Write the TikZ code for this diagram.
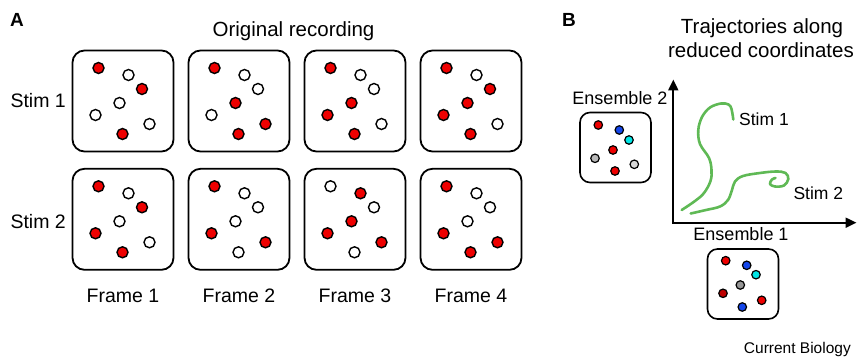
\documentclass[tikz,border=0pt]{standalone}
\usepackage{fontspec}
\setmainfont{Liberation Sans}
\usetikzlibrary{arrows.meta}

\definecolor{dotr}{RGB}{238,0,0}
\definecolor{dotw}{RGB}{255,255,255}
\definecolor{ensblue}{RGB}{20,70,235}
\definecolor{enscyan}{RGB}{0,230,230}
\definecolor{ensgray}{RGB}{185,185,185}
\definecolor{enslight}{RGB}{215,215,215}
\definecolor{ensmid}{RGB}{150,150,150}
\definecolor{ensdark}{RGB}{190,0,0}
\definecolor{trajgreen}{RGB}{95,185,85}

\tikzset{
  framebox/.style={draw, line width=1.8pt, rounded corners=12pt,
    minimum width=101pt, minimum height=101pt, inner sep=0pt, outer sep=0pt},
  dot/.style={circle, draw, line width=1.4pt, minimum size=11pt, inner sep=0pt},
  ensbox/.style={draw, line width=1.6pt, rounded corners=10pt,
    minimum width=71pt, minimum height=70pt, inner sep=0pt, outer sep=0pt},
  edot/.style={circle, draw, line width=1.2pt, minimum size=8.5pt, inner sep=0pt},
  txt/.style={inner sep=0pt, font=\fontsize{19.5}{23}\selectfont},
  title/.style={inner sep=0pt, font=\fontsize{20.5}{24}\selectfont},
  btxt/.style={inner sep=0pt, font=\fontsize{17.5}{21}\selectfont},
  enstxt/.style={inner sep=0pt, font=\fontsize{18}{21}\selectfont},
  panel/.style={inner sep=0pt, font=\fontsize{19}{22}\selectfont\bfseries},
  axis/.style={line width=2pt, line join=miter,
    {Triangle[length=11pt,width=10pt]}-{Triangle[length=11pt,width=10pt]}},
  traj/.style={draw=trajgreen, line width=2.6pt, line cap=round, line join=round}
}

\def\pxs{{26.5,56.5,70,47.5,23.5,50.5,77.5}}
\def\pys{{18,25,39,53,65,84,74}}

\begin{document}
\begin{tikzpicture}[x=1pt,y=-1pt]
\useasboundingbox (0,0) rectangle (857,358);

% ---------- panel A ----------
\node[panel, anchor=base west] (labA) at (10,26.7) {A};
\node[title, anchor=base] (origrec) at (293.5,36.7) {Original recording};

% frames: row / column / fill of the seven cells
\foreach \r/\c/\cols in {
  1/1/{r,w,r,w,w,r,w},
  1/2/{r,w,w,r,w,r,r},
  1/3/{r,w,w,r,r,r,w},
  1/4/{r,w,r,r,r,r,w},
  2/1/{r,w,r,w,r,r,w},
  2/2/{r,w,w,w,r,w,r},
  2/3/{w,r,w,r,r,w,r},
  2/4/{r,w,w,w,r,r,r}}
{
  \pgfmathsetmacro\fx{72+116*(\c-1)}
  \pgfmathsetmacro\fy{50+118.3*(\r-1)}
  \node[framebox] (f\r\c) at (\fx+51,\fy+51) {};
  \foreach \s [count=\k from 0] in \cols {
    \pgfmathsetmacro\dx{\pxs[\k]}
    \pgfmathsetmacro\dy{\pys[\k]}
    \node[dot, fill=dot\s] (f\r\c d\k) at (\fx+\dx,\fy+\dy) {};
  }
}

\node[txt, anchor=base east] (stimA1) at (66,107.3) {Stim 1};
\node[txt, anchor=base east] (stimA2) at (66,228.3) {Stim 2};

\foreach \c in {1,2,3,4} {
  \pgfmathsetmacro\lx{72+116*(\c-1)+51}
  \node[txt, anchor=base] (fr\c) at (\lx,302.3) {Frame \c};
}

% ---------- panel B ----------
\node[panel, anchor=base west] (labB) at (562,26.7) {B};
\node[title, anchor=base] (trajtitle1) at (762,33.3) {Trajectories along};
\node[title, anchor=base] (trajtitle2) at (761,57.3) {reduced coordinates};

% axes
\coordinate (O) at (673.3,222.7);
\coordinate (ytip) at (673.3,79.5);
\coordinate (xtip) at (856.5,222.7);
\draw[axis] (ytip) -- (O) -- (xtip);

% trajectories
\draw[traj] plot[smooth, tension=0.6] coordinates {
  (681.7,210) (695,201) (704,193) (710.5,181) (711.5,170) (709,158)
  (700,144) (698.3,130) (702,117) (710,107.5) (721,103.5) (728.5,104.5)
  (731.5,109) (733.3,119.5)};
\coordinate (s1end) at (733.3,119.5);
\node[btxt, anchor=base west] (stimB1) at (739,125.7) {Stim 1};

\draw[traj] plot[smooth, tension=0.6] coordinates {
  (690.7,213.5) (706,210) (720,206.5) (728,200) (732,190) (735,181.5)
  (743,176) (760,173) (776,171.5) (785.5,173) (788.3,179) (784,185.5)
  (775,186.5) (770,184) (772,179.5) (775.5,178)};
\coordinate (s2end) at (775.5,178);
\node[btxt, anchor=base west] (stimB2) at (793.3,199.3) {Stim 2};

% ensemble 2 (vertical axis)
\node[enstxt, anchor=base] (ens2lab) at (620,105) {Ensemble 2};
\node[ensbox] (ens2) at (615.5,147.5) {};
\foreach \x/\y/\col [count=\k] in {
  598.3/125/dotr, 619.3/130/ensblue, 629/140/enscyan, 613/150/dotr,
  595/158.3/ensgray, 634.3/164.3/enslight, 615/171/dotr}
  \node[edot, fill=\col] (ens2d\k) at (\x,\y) {};

% ensemble 1 (horizontal axis)
\node[enstxt, anchor=base] (ens1lab) at (741,241) {Ensemble 1};
\node[ensbox] (ens1) at (743,284) {};
\foreach \x/\y/\col [count=\k] in {
  725.7/260.7/dotr, 746.7/265.3/ensblue, 756/274.7/enscyan, 740.3/285/ensmid,
  723/293.3/ensdark, 761.7/300.3/dotr, 742.3/307/ensblue}
  \node[edot, fill=\col] (ens1d\k) at (\x,\y) {};

\node[inner sep=0pt, font=\fontsize{15.5}{18}\selectfont, anchor=base east]
  (journal) at (851,353) {Current Biology};

\end{tikzpicture}
\end{document}
